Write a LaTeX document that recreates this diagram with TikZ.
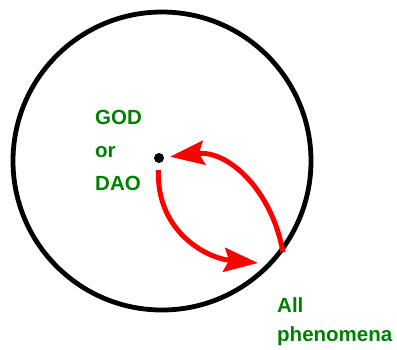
\documentclass[tikz,border=0pt]{standalone}
\usepackage{fontspec}
\setmainfont{Liberation Sans}
\usetikzlibrary{arrows.meta}
\definecolor{txtgreen}{RGB}{0,128,0}
\begin{document}
\begin{tikzpicture}[x=1pt,y=-1pt,
  lbl/.style={anchor=base west,inner sep=0pt,text=txtgreen,font=\bfseries\fontsize{20.5}{24}\selectfont},
  redarrow/.style={draw=red,line width=5pt,-{Stealth[length=34pt,width=24pt,inset=5pt]}},
  dotnode/.style={circle,fill=black,inner sep=0pt,minimum size=10pt}]
\useasboundingbox (0,0) rectangle (397,349);
\node[circle,draw=black,line width=4.8pt,inner sep=0pt,minimum size=298pt] (world) at (162,161) {};
\node[dotnode] (god) at (159,158) {};
\coordinate (ph) at (world.-37);
\coordinate (tipin) at (258,263);
\node[lbl] (t1) at (95,124) {GOD};
\node[lbl] (t2) at (95,157) {or};
\node[lbl] (t3) at (95,190) {DAO};
\node[lbl] (t4) at (277,312) {All};
\node[lbl] (t5) at (277,341) {phenomena};
\draw[redarrow,shorten >=6pt] (ph) .. controls (272,190) and (228,150) .. (god);
\draw[redarrow,shorten <=7pt] (god) .. controls (156,230) and (205,258) .. (tipin);
\end{tikzpicture}
\end{document}
